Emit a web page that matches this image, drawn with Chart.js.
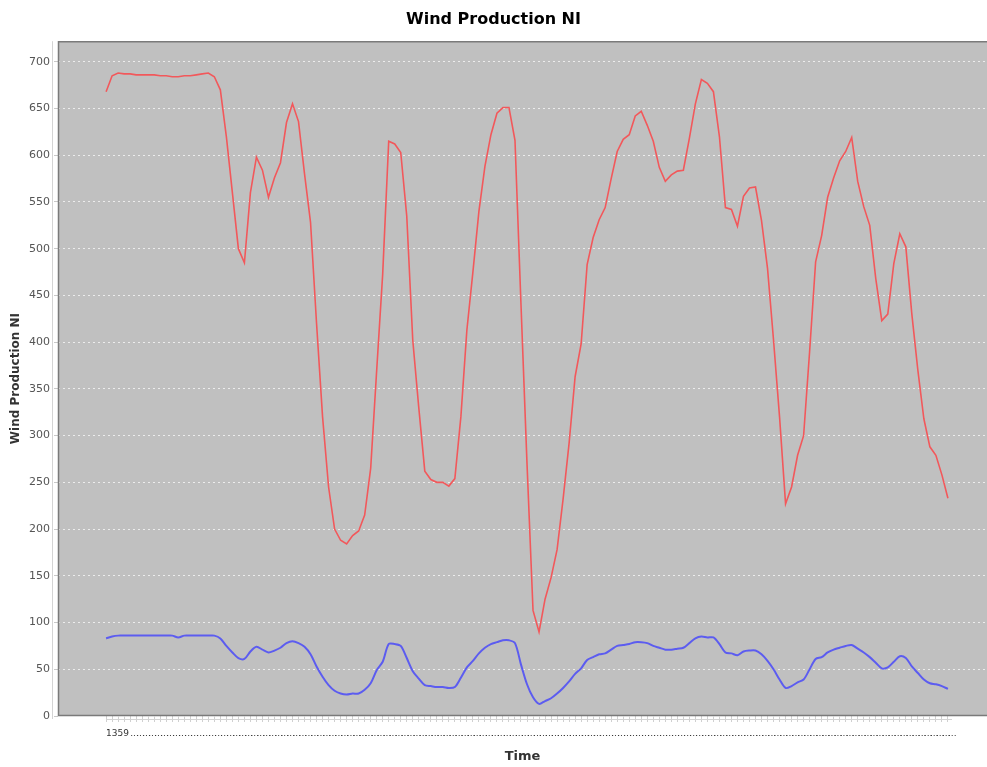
<!DOCTYPE html>
<html>
<head>
<meta charset="utf-8">
<title>Wind Production NI</title>
<script src="https://cdn.jsdelivr.net/npm/chart.js@4.4.1/dist/chart.umd.min.js"></script>
<style>
    body { margin: 0; background: #fff; }
    canvas { display: block; }
</style>
</head>
<body>
<canvas id="windChart" width="987" height="767"></canvas>
<script>
// Wind production (upper series) and second series (lower), one value per time step
const windProduction = [
    668, 685, 688, 687, 687, 686, 686, 686, 686, 685, 685, 684, 684, 685, 685, 686, 687, 688, 684, 670,
    620, 560, 500, 485, 560, 598, 584, 555, 576, 592, 635, 655, 636, 580, 528, 420, 320, 245, 200, 188,
    184, 193, 198, 215, 265, 370, 473, 615, 612, 603, 535, 402, 330, 262, 253, 250, 250, 246, 254, 320,
    413, 475, 540, 588, 622, 645, 651, 651, 616, 440, 270, 113, 90, 125, 148, 178, 232, 292, 363, 398,
    483, 512, 531, 544, 575, 604, 617, 622, 642, 647, 632, 615, 587, 572, 579, 583, 584, 618, 655, 681,
    677, 668, 620, 544, 542, 524, 556, 565, 566, 530, 479, 402, 320, 227, 245, 279, 300, 390, 486, 514,
    555, 576, 594, 604, 619, 572, 545, 525, 468, 423, 430, 484, 516, 502, 430, 370, 318, 288, 279, 258,
    233
];
const secondSeries = [
    83, 85, 86, 86, 86, 86, 86, 86, 86, 86, 86, 86, 84, 86, 86, 86, 86, 86, 86, 83,
    75, 68, 62, 61, 69, 74, 71, 68, 70, 73, 78, 80, 78, 74, 66, 53, 42, 33, 27, 24,
    23, 24, 24, 28, 35, 49, 58, 77, 77, 75, 62, 48, 40, 33, 32, 31, 31, 30, 31, 41,
    52, 59, 67, 73, 77, 79, 81, 81, 78, 55, 34, 20, 13, 16, 19, 24, 30, 37, 45, 51,
    60, 63, 66, 67, 71, 75, 76, 77, 79, 79, 78, 75, 73, 71, 71, 72, 73, 78, 83, 85,
    84, 84, 77, 68, 67, 65, 69, 70, 70, 66, 59, 50, 39, 30, 32, 36, 39, 50, 61, 63,
    68, 71, 73, 75, 76, 72, 68, 63, 57, 51, 52, 58, 64, 62, 53, 46, 39, 35, 34, 32,
    29
];
// the time labels in the source collapse into "1359" followed by dots
const timeTickLabels = windProduction.map((v, i) => i === 0 ? '1359' : (i < 4 ? '' : '...'));
const yTicks = [0, 50, 100, 150, 200, 250, 300, 350, 400, 450, 500, 550, 600, 650, 700];

const plotBackground = {
    id: 'plotBackground',
    beforeDraw(chart) {
        const { ctx, chartArea: a } = chart;
        ctx.save();
        ctx.fillStyle = '#c0c0c0';
        ctx.fillRect(a.left, a.top, a.right - a.left, a.bottom - a.top);
        ctx.restore();
    },
    afterDraw(chart) {
        const { ctx, chartArea: a } = chart;
        ctx.save();
        ctx.strokeStyle = '#7a7a7a';
        ctx.lineWidth = 1.5;
        ctx.beginPath();
        ctx.moveTo(a.right, a.top + 0.5);
        ctx.lineTo(a.left + 0.5, a.top + 0.5);
        ctx.lineTo(a.left + 0.5, a.bottom - 0.5);
        ctx.lineTo(a.right, a.bottom - 0.5);
        ctx.stroke();
        // offset axis lines
        ctx.strokeStyle = '#d4d4d4';
        ctx.lineWidth = 1;
        ctx.beginPath();
        ctx.moveTo(a.left - 5.5, a.top);
        ctx.lineTo(a.left - 5.5, a.bottom + 3);
        ctx.moveTo(a.left + 48, a.bottom + 3.5);
        ctx.lineTo(a.right - 35, a.bottom + 3.5);
        ctx.stroke();
        ctx.restore();
    }
};

new Chart(document.getElementById('windChart').getContext('2d'), {
    type: 'line',
    data: {
        datasets: [
            {
                label: 'Wind Production NI',
                data: windProduction.map((v, i) => ({ x: i, y: v })),
                borderColor: '#f2585b',
                borderWidth: 1.6,
                pointRadius: 0,
                tension: 0
            },
            {
                label: 'Series 2',
                data: secondSeries.map((v, i) => ({ x: i, y: v })),
                borderColor: '#5c5cf0',
                borderWidth: 2,
                pointRadius: 0,
                tension: 0.3
            }
        ]
    },
    options: {
        responsive: false,
        animation: false,
        layout: { padding: { left: 0, right: 0, top: 0, bottom: 0 } },
        plugins: {
            legend: { display: false },
            tooltip: { enabled: false },
            title: {
                display: true,
                text: 'Wind Production NI',
                color: '#000',
                font: { family: 'DejaVu Sans', size: 16, weight: 'bold' },
                padding: { top: 10, bottom: 12 }
            }
        },
        scales: {
            x: {
                type: 'linear',
                min: -8,
                max: 146.5,
                afterBuildTicks: (axis) => {
                    axis.ticks = timeTickLabels.map((l, i) => ({ value: i }));
                },
                afterFit: (scale) => { scale.height = 51; },
                grid: {
                    drawOnChartArea: false,
                    drawTicks: true,
                    tickLength: 6,
                    tickColor: '#d0d0d0',
                    color: '#d0d0d0'
                },
                border: { display: false },
                ticks: {
                    autoSkip: false,
                    maxRotation: 0,
                    minRotation: 0,
                    align: 'start',
                    padding: 6,
                    color: '#333',
                    font: { family: 'DejaVu Sans', size: 9 },
                    callback: (value) => timeTickLabels[value]
                },
                title: {
                    display: true,
                    text: 'Time',
                    color: '#333',
                    font: { family: 'DejaVu Sans', size: 13, weight: 'bold' },
                    padding: { top: 0, bottom: 3 }
                }
            },
            y: {
                min: 0,
                max: 722,
                afterBuildTicks: (axis) => {
                    axis.ticks = yTicks.map(v => ({ value: v }));
                },
                afterFit: (scale) => { scale.width = 58; },
                grid: {
                    color: 'rgba(255,255,255,0.7)',
                    lineWidth: 1,
                    drawTicks: true,
                    tickLength: 4,
                    tickColor: '#c8c8c8'
                },
                border: { display: false, dash: [2, 3] },
                ticks: {
                    padding: 4,
                    color: '#555',
                    font: { family: 'DejaVu Sans', size: 11 }
                },
                title: {
                    display: true,
                    text: 'Wind Production NI',
                    color: '#333',
                    font: { family: 'DejaVu Sans', size: 12, weight: 'bold' },
                    padding: { top: 9, bottom: 0 }
                }
            }
        }
    },
    plugins: [plotBackground]
});
</script>
</body>
</html>
